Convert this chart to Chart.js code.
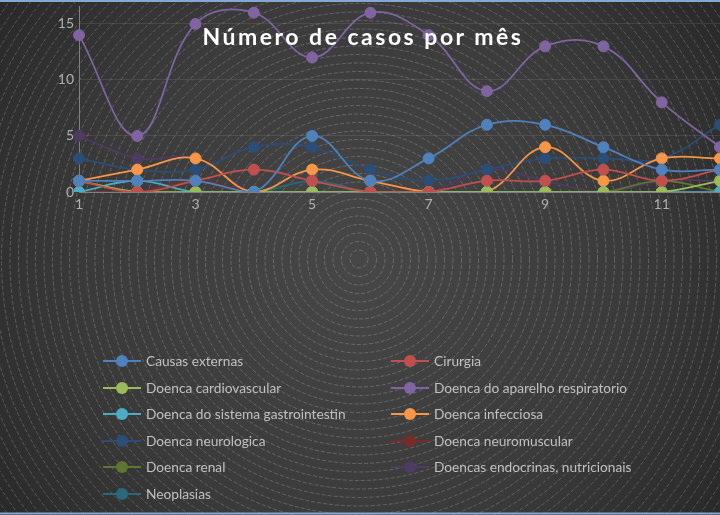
<!DOCTYPE html>
<html>
<head>
<meta charset="utf-8">
<script src="https://cdn.jsdelivr.net/npm/chart.js@4/dist/chart.umd.min.js"></script>
<style>
  html, body { margin: 0; padding: 0; background: #2b2b2b; }
  #wrap { position: relative; width: 720px; height: 515px; overflow: hidden; }
  #c { position: absolute; left: 0; top: 0; }
  #title { position: absolute; left: 0; width: 726px; top: 22px; text-align: center;
           font-family: Lato, "Open Sans", sans-serif; font-weight: bold; font-size: 23px;
           letter-spacing: 2.5px; color: #ffffff; pointer-events: none; }
  .lg { position: absolute; height: 20px; font-family: Lato, "Open Sans", sans-serif;
        font-size: 13.7px; color: #c0c0c0; white-space: nowrap; }
  .lg .ln { position: absolute; left: 0; top: 9px; width: 38px; height: 2px; }
  .lg .dot { position: absolute; left: 13px; top: 4px; width: 12px; height: 12px; border-radius: 50%; }
  .lg .tx { position: absolute; left: 43px; top: 1px; }
</style>
</head>
<body>
<div id="wrap">
  <canvas id="c" width="720" height="515"></canvas>
  <div id="title">Número de casos por mês</div>
</div>
<script>
// ---- data ----
const months = ['1','2','3','4','5','6','7','8','9','10','11','12'];
const seriesNames = [
  'Causas externas', 'Cirurgia', 'Doenca cardiovascular', 'Doenca do aparelho respiratorio',
  'Doenca do sistema gastrointestin', 'Doenca infecciosa', 'Doenca neurologica',
  'Doenca neuromuscular', 'Doenca renal', 'Doencas endocrinas, nutricionais', 'Neoplasias'
];
const causasExternas   = [1, 1, 1, 0, 5, 1, 3, 6, 6, 4, 2, 2];
const cirurgia         = [1, 0, 1, 2, 1, 0, 0, 1, 1, 2, 1, 2];
const cardiovascular   = [1, 0, 0, 0, 0, 0, 0, 0, 0, 0, 0, 1];
const respiratorio     = [14, 5, 15, 16, 12, 16, 14, 9, 13, 13, 8, 4];
const gastrointestinal = [0, 1, 0, 0, 0, 0, 0, 0, 0, 0, 0, 0];
const infecciosa       = [1, 2, 3, 0, 2, 1, 0, 0, 4, 1, 3, 3];
const neurologica      = [3, 2, 2, 4, 4, 2, 1, 2, 3, 3, 3, 6];
const neuromuscular    = [0, 0, 1, 0, 0, 0, 0, 0, 0, 0, 0, 0];
const renal            = [0, 0, 0, 0, 0, 0, 0, 0, 0, 0, 1, 0];
const endocrinas       = [5, 3, 3, 0, 0, 0, 0, 2, 1, 0, 1, 1];
const neoplasias       = [0, 0, 1, 0, 1, 0, 0, 0, 0, 0, 0, 0];
const yTicks = [0, 5, 10, 15];

const seriesValues = [causasExternas, cirurgia, cardiovascular, respiratorio, gastrointestinal,
  infecciosa, neurologica, neuromuscular, renal, endocrinas, neoplasias];
const colors = ['#4F81BD', '#C0504D', '#9BBB59', '#8064A2', '#4BACC6', '#F79646',
  '#2C4D75', '#772C2A', '#5F7530', '#4D3B62', '#276A7C'];

const datasets = seriesNames.map((name, i) => ({
  label: name,
  data: seriesValues[i],
  borderColor: colors[i],
  backgroundColor: colors[i],
  pointBackgroundColor: colors[i],
  pointBorderColor: colors[i],
  pointRadius: 5.5,
  pointBorderWidth: 1,
  borderWidth: 1.75,
  tension: 0.4,
  fill: false
}));

const bgPlugin = {
  id: 'bg',
  beforeDraw(chart) {
    const ctx = chart.ctx, W = chart.width, H = chart.height;
    const cx = 359, cy = 259;
    ctx.save();
    const g = ctx.createRadialGradient(cx, cy, 0, cx, cy, 460);
    g.addColorStop(0, '#474747');
    g.addColorStop(0.6, '#3a3a3a');
    g.addColorStop(1, '#272727');
    ctx.fillStyle = g;
    ctx.fillRect(0, 0, W, H);
    ctx.strokeStyle = 'rgba(255,255,255,0.2)';
    ctx.lineWidth = 1;
    ctx.setLineDash([4, 2]);
    for (let r = 9; r < 470; r += 8.5) {
      ctx.beginPath();
      ctx.arc(cx, cy, r, 0, Math.PI * 2);
      ctx.stroke();
    }
    ctx.setLineDash([]);
    ctx.strokeStyle = '#86a8d4';
    ctx.lineWidth = 2;
    ctx.beginPath(); ctx.moveTo(0, 1); ctx.lineTo(W, 1); ctx.stroke();
    ctx.beginPath(); ctx.moveTo(0, 513.5); ctx.lineTo(W, 513.5); ctx.stroke();
    ctx.restore();
  }
};

new Chart(document.getElementById('c'), {
  type: 'line',
  data: { labels: months, datasets },
  plugins: [bgPlugin],
  options: {
    responsive: false,
    animation: false,
    layout: { autoPadding: false, padding: { top: 6, right: 0, left: 0, bottom: 0 } },
    plugins: { legend: { display: false }, title: { display: false }, tooltip: { enabled: false } },
    scales: {
      x: {
        grid: { display: false, drawTicks: false },
        border: { display: true, color: '#7f7f7f', width: 1 },
        ticks: {
          autoSkip: false, maxRotation: 0, padding: 4, color: '#b0b0b0',
          font: { family: 'Lato, "Open Sans", sans-serif', size: 14 },
          callback: (v, i) => (i % 2 === 0 ? months[i] : '')
        },
        afterFit: (s) => { s.height = 515 - 192; s.paddingLeft = 0; s.paddingRight = 0; }
      },
      y: {
        min: 0, max: 16.6,
        afterBuildTicks: (s) => { s.ticks = yTicks.map(v => ({ value: v })); },
        grid: { color: 'rgba(255,255,255,0.09)', drawTicks: false, lineWidth: 1 },
        border: { display: true, color: '#7f7f7f', width: 1 },
        ticks: { padding: 5, color: '#b0b0b0', font: { family: 'Lato, "Open Sans", sans-serif', size: 14 } },
        afterFit: (s) => { s.width = 79; s.paddingTop = 0; s.paddingBottom = 0; }
      }
    }
  }
});

// HTML legend (two columns)
const wrap = document.getElementById('wrap');
seriesNames.forEach((name, i) => {
  const col = i % 2, row = Math.floor(i / 2);
  const d = document.createElement('div');
  d.className = 'lg';
  d.style.left = (col === 0 ? 103 : 391) + 'px';
  d.style.top = (351 + row * 26.6) + 'px';
  d.innerHTML = '<div class="ln" style="background:' + colors[i] + '"></div>' +
    '<div class="dot" style="background:' + colors[i] + '"></div>' +
    '<span class="tx"></span>';
  d.querySelector('.tx').textContent = name;
  wrap.appendChild(d);
});
</script>
</body>
</html>
